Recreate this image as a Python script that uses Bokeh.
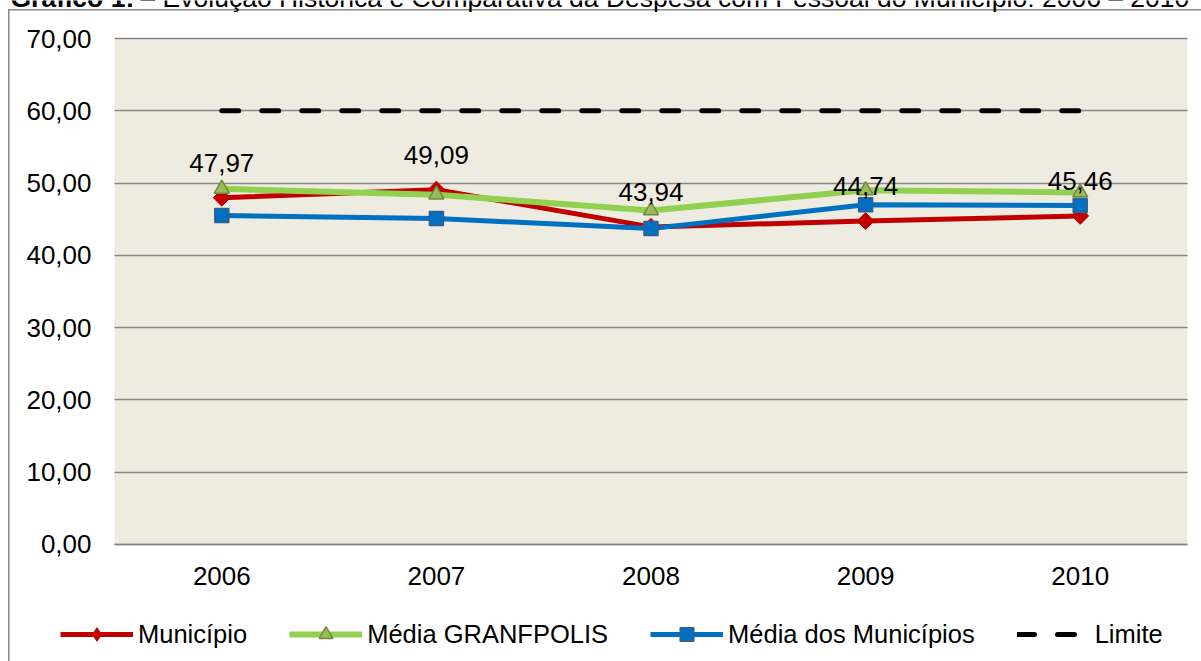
import math
from bokeh.plotting import figure
from bokeh.models import (Range1d, FixedTicker, Legend, LegendItem, Label,
                          BoxAnnotation, Grid)
from bokeh.core.properties import value
from bokeh.embed import file_html
from bokeh.resources import INLINE

# ---------------- data ----------------
years = ["2006", "2007", "2008", "2009", "2010"]
municipio = [47.97, 49.09, 43.94, 44.74, 45.46]
media_granfpolis = [49.2, 48.4, 46.2, 49.0, 48.7]
media_municipios = [45.5, 45.1, 43.7, 47.0, 46.9]
limite = [60.0, 60.0, 60.0, 60.0, 60.0]
municipio_labels = ["47,97", "49,09", "43,94", "44,74", "45,46"]
y_ticks = [0, 10, 20, 30, 40, 50, 60, 70]
y_tick_labels = ["0,00", "10,00", "20,00", "30,00", "40,00", "50,00", "60,00", "70,00"]
series_names = ["Município", "Média GRANFPOLIS", "Média dos Municípios", "Limite"]
title_bold = "Gráfico 1:"
title_rest = "– Evolução Histórica e Comparativa da Despesa com Pessoal do Município: 2006 – 2010"

# category positions on the x scale (one slot per year)
x_pos = list(range(len(years)))
x_lo, x_hi = -0.5, len(years) - 0.5
y_lo, y_hi = y_ticks[0], y_ticks[-1]

FONT = "Liberation Sans"
FS = "26px"
GRAY = "#868686"
RED, GREEN, BLUE = "#C00000", "#92D050", "#0070C0"

# the frame covers the whole canvas; the plot area is drawn inside it
p = figure(width=1201, height=661,
           x_range=Range1d(-1.0312, 4.5652), y_range=Range1d(-16.186, 75.257),
           output_backend="svg", toolbar_location=None,
           min_border_left=0, min_border_right=0, min_border_top=0, min_border_bottom=0,
           background_fill_alpha=0, border_fill_alpha=0, outline_line_color=None)
# outer chart box (left and top edges)
p.styles = {
    "background": (f"linear-gradient({GRAY},{GRAY}) 7.5px 9px / 1.5px 100% no-repeat, "
                   f"linear-gradient({GRAY},{GRAY}) 7.5px 9px / 100% 1.5px no-repeat, white"),
}

# plot area background
p.add_layout(BoxAnnotation(left=x_lo, right=x_hi, bottom=y_lo, top=y_hi,
                           fill_color="#EEECE1", fill_alpha=1, line_color=None,
                           level="image"))

# axes placed at the plot-area edges
p.yaxis.fixed_location = x_lo
p.yaxis.bounds = (y_lo, y_hi)
p.yaxis.ticker = FixedTicker(ticks=y_ticks)
p.yaxis.major_label_overrides = {t: s for t, s in zip(y_ticks, y_tick_labels)}
p.yaxis.axis_line_color = None
p.yaxis.major_tick_line_color = None
p.yaxis.minor_tick_line_color = None
p.yaxis.major_tick_out = 0
p.yaxis.major_label_standoff = 23

p.xaxis.fixed_location = y_lo
p.xaxis.bounds = (x_lo, x_hi)
p.xaxis.ticker = FixedTicker(ticks=x_pos)
p.xaxis.major_label_overrides = {i: y for i, y in zip(x_pos, years)}
p.xaxis.axis_line_color = GRAY
p.xaxis.axis_line_width = 1.5
p.xaxis.major_tick_line_color = None
p.xaxis.minor_tick_line_color = None
p.xaxis.major_tick_out = 0
p.xaxis.major_label_standoff = 23
for ax in (p.xaxis, p.yaxis):
    ax.major_label_text_font = FONT
    ax.major_label_text_font_size = FS
    ax.major_label_text_color = "black"

p.xgrid.grid_line_color = None
if "cross_bounds" in Grid.properties():
    p.ygrid.ticker = FixedTicker(ticks=y_ticks)
    p.ygrid.cross_bounds = (x_lo, x_hi)
    p.ygrid.grid_line_color = GRAY
    p.ygrid.grid_line_width = 1.3
else:
    p.ygrid.grid_line_color = None
    p.segment(x0=[x_lo] * len(y_ticks), x1=[x_hi] * len(y_ticks), y0=y_ticks, y1=y_ticks,
              line_color=GRAY, line_width=1.3)

# series
r1 = p.line(x_pos, municipio, line_color=RED, line_width=5, line_join="round")
# diamond marker (used for the legend swatch; covered by the rotated square below)
m1_leg = p.scatter(x_pos, municipio, marker="diamond", size=15,
                   fill_color=RED, line_color=RED)
m1 = p.scatter(x_pos, municipio, marker="square", angle=math.pi / 4, size=12,
               fill_color=RED, line_color=RED)
r2 = p.line(x_pos, media_granfpolis, line_color=GREEN, line_width=6, line_join="round")
m2 = p.scatter(x_pos, media_granfpolis, marker="triangle", size=15,
               fill_color="#9BBB59", line_color="#71893F", line_width=1.5)
r3 = p.line(x_pos, media_municipios, line_color=BLUE, line_width=5, line_join="round")
m3 = p.scatter(x_pos, media_municipios, marker="square", size=14,
               fill_color=BLUE, line_color="#385D8A", line_width=1.5)
r4 = p.line(x_pos, limite, line_color="black", line_width=5, line_dash="17 23",
            line_cap="round")

# data labels
p.text(x=x_pos, y=municipio, text=municipio_labels, text_font=value(FONT),
       text_font_size=FS, text_color="black", text_align="center",
       text_baseline="alphabetic", y_offset=-35)

# legend
legend = Legend(items=[LegendItem(label=series_names[0], renderers=[r1, m1_leg]),
                       LegendItem(label=series_names[1], renderers=[r2, m2]),
                       LegendItem(label=series_names[2], renderers=[r3, m3]),
                       LegendItem(label=series_names[3], renderers=[r4])],
                orientation="horizontal", location=(60, 10),
                label_text_font=FONT, label_text_font_size="25.5px",
                label_text_color="black",
                glyph_width=73, glyph_height=34, label_height=30, label_standoff=5,
                spacing=42, padding=0, margin=0, border_line_color=None,
                background_fill_alpha=0)
p.add_layout(legend, "center")

# caption above the chart, cut off by the top edge as in the original
p.add_layout(Label(x=10, y=664, x_units="screen", y_units="screen", text=title_bold,
                   text_font=FONT, text_font_size="26.5px", text_font_style="bold",
                   text_baseline="alphabetic", text_align="left", text_color="black"))
p.add_layout(Label(x=140, y=664, x_units="screen", y_units="screen", text=title_rest,
                   text_font=FONT, text_font_size="26.5px",
                   text_baseline="alphabetic", text_align="left", text_color="black"))

open("out.html", "w").write(file_html(p, INLINE))
